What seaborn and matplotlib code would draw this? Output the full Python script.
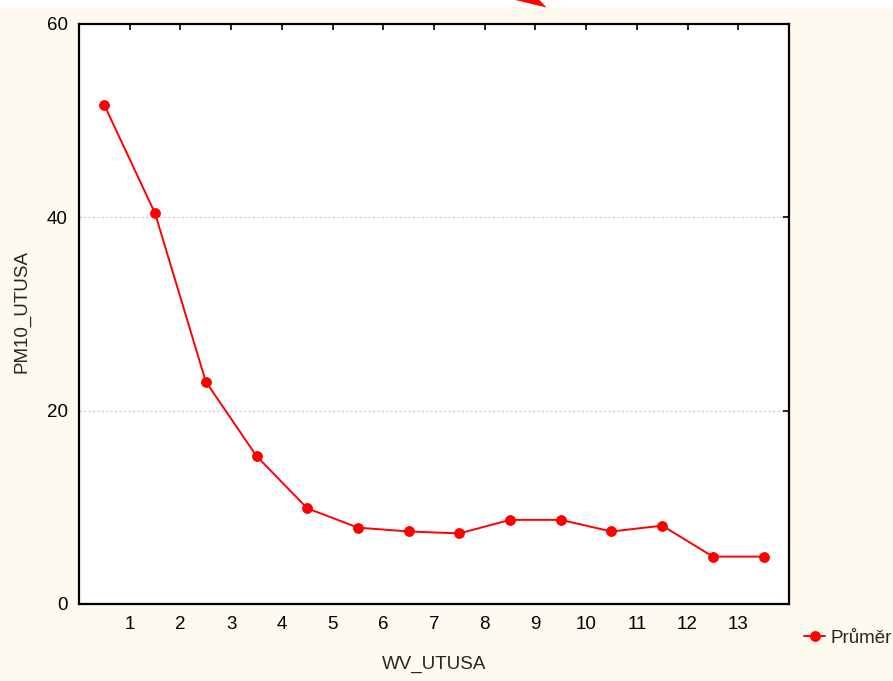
import pandas as pd
import matplotlib.pyplot as plt
import seaborn as sns
from matplotlib.patches import Polygon, Rectangle

# WV_UTUSA class midpoints and mean PM10_UTUSA
wv_utusa = [0.5, 1.5, 2.5, 3.5, 4.5, 5.5, 6.5, 7.5, 8.5, 9.5, 10.5, 11.5, 12.5, 13.5]
pm10_mean = [51.6, 40.4, 23.0, 15.3, 9.9, 7.9, 7.5, 7.3, 8.7, 8.7, 7.5, 8.1, 4.9, 4.9]
x_ticks = list(range(1, 14))
y_ticks = [0, 20, 40, 60]

df = pd.DataFrame({'WV_UTUSA': wv_utusa, 'PM10_UTUSA': pm10_mean})

sns.set_style('white')
plt.rcParams['font.family'] = ['Liberation Sans', 'DejaVu Sans']

bg = '#fffaef'
fs = 13.5
fig = plt.figure(figsize=(8.93, 6.81), dpi=100, facecolor=bg)
ax = fig.add_axes([0.0885, 0.1131, 0.795, 0.8517])
ax.set_facecolor('white')

sns.lineplot(data=df, x='WV_UTUSA', y='PM10_UTUSA', ax=ax, color='#ff0000',
             marker='o', markersize=7, markeredgecolor='#ff0000', linewidth=1.4,
             label='Průměr', legend=False)

ax.set_xlim(0, 14)
ax.set_ylim(0, 60)
ax.set_xticks(x_ticks)
ax.set_yticks(y_ticks)
ax.yaxis.grid(True, color='#c8c8c8', linestyle=(0, (2, 2)), linewidth=0.8)
ax.xaxis.grid(False)
ax.tick_params(direction='in', length=4, width=1.2, top=True, right=True,
               labelsize=fs, colors='black')
ax.tick_params(axis='x', pad=9)
ax.tick_params(axis='y', pad=8)
for s in ax.spines.values():
    s.set_color('black')
    s.set_linewidth(1.6)

ax.set_xlabel('WV_UTUSA', fontsize=fs)
ax.set_ylabel('PM10_UTUSA', fontsize=fs)
ax.xaxis.set_label_coords(0.5, -0.09)
ax.yaxis.set_label_coords(-0.069, 0.505)

# legend outside the frame, lower right
handles, labels = ax.get_legend_handles_labels()
fig.legend(handles, labels, loc='center left', bbox_to_anchor=(0.886, 0.063),
           frameon=False, fontsize=fs, handlelength=1.1, handletextpad=0.3,
           borderpad=0.2, markerscale=1.0)

# white strip and red arrow head at the top edge
fig.patches.append(Rectangle((0, 0.9897), 1, 0.0103, transform=fig.transFigure,
                             facecolor='white', edgecolor='none'))
fig.patches.append(Polygon([(0.577, 1.0), (0.612, 0.989), (0.604, 1.0)],
                           closed=True, transform=fig.transFigure,
                           facecolor='#ff0000', edgecolor='none'))

fig.savefig('out.png', dpi=100, facecolor=bg)
